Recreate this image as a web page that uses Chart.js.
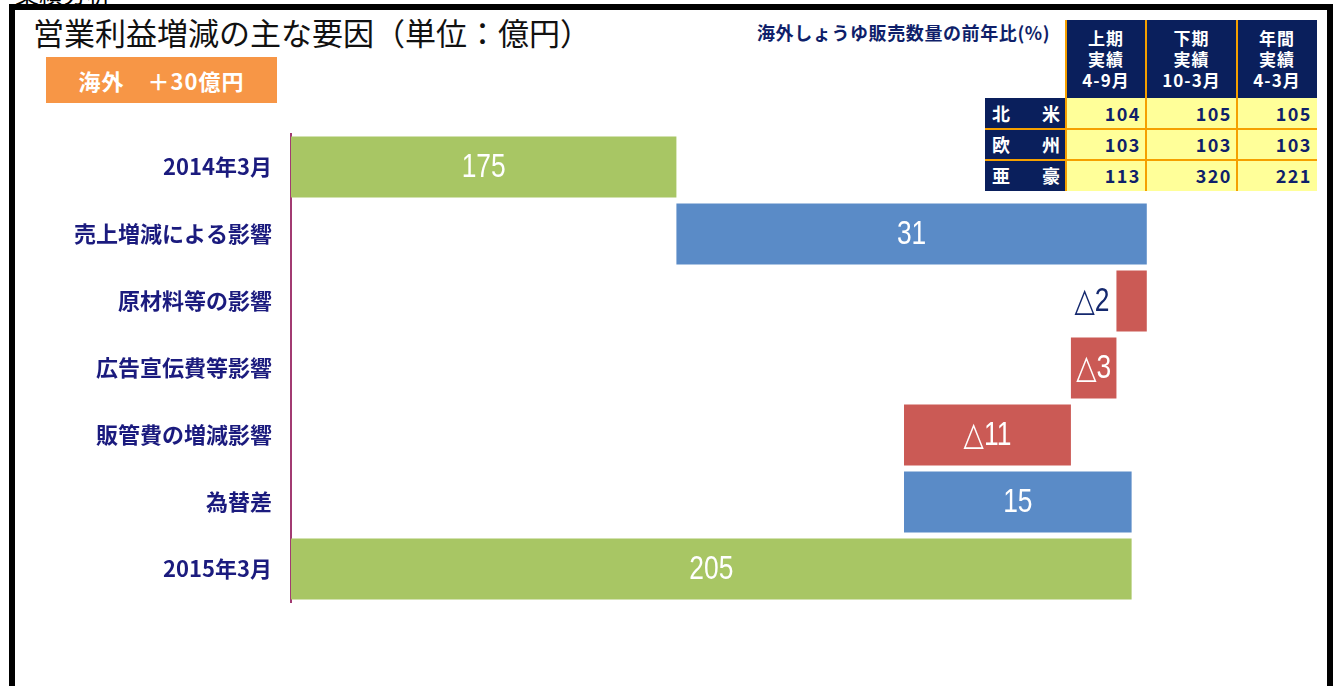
<!DOCTYPE html>
<html>
<head>
<meta charset="utf-8">
<script src="https://cdn.jsdelivr.net/npm/chart.js@4.4.1/dist/chart.umd.min.js"></script>
<style>
  html, body { margin: 0; padding: 0; background: #fff; width: 1343px; height: 686px; overflow: hidden; position: relative; font-family: "Noto Sans CJK JP", sans-serif; }
  #frame { position: absolute; left: 9px; top: 4px; width: 1312px; height: 720px; border: 6px solid #000; box-sizing: content-box; }
  #cut { position: absolute; left: 15px; top: -19px; font-size: 24px; line-height: 24px; color: #000; }
  #title { position: absolute; left: 33px; top: 16px; font-size: 31px; line-height: 31px; color: #111; white-space: nowrap; }
  #badge { position: absolute; left: 46px; top: 57px; width: 231px; height: 46px; background: #F79646; color: #fff; font-weight: bold; font-size: 22px; line-height: 46px; text-align: center; letter-spacing: 1px; }
  #ttitle { position: absolute; left: 757px; top: 20px; font-size: 18px; line-height: 24px; font-weight: bold; color: #0F1F6A; white-space: nowrap; letter-spacing: 0.6px; }
  .cell { position: absolute; box-sizing: border-box; font-weight: bold; }
  .hd { background: #0A1F5C; color: #fff; font-size: 17px; line-height: 21px; text-align: center; padding-top: 7px; letter-spacing: 1px; }
  .rl { background: #0A1F5C; color: #fff; font-size: 18px; line-height: 30px; display: flex; justify-content: space-between; padding: 0 6px 0 7px; }
  .dv { background: #FFFF99; color: #0F1F6A; font-size: 18px; line-height: 31px; text-align: right; padding-right: 5px; letter-spacing: 1.5px; }
  .vl { position: absolute; background: #F5A000; width: 2px; }
  .hl { position: absolute; background: #F5A000; height: 2px; }
  #c { position: absolute; left: 0; top: 0; }
</style>
</head>
<body>
<div id="cut">業績分析</div>
<div id="frame"></div>
<div id="title">営業利益増減の主な要因（単位：億円）</div>
<div id="badge">海外　＋30億円</div>
<div id="ttitle">海外しょうゆ販売数量の前年比(%)</div>
<div id="table"></div>
<canvas id="c" width="1343" height="686"></canvas>
<script>
// ---- chart data ----
const categories = ['2014年3月', '売上増減による影響', '原材料等の影響', '広告宣伝費等影響', '販管費の増減影響', '為替差', '2015年3月'];
const changes = [175, 31, -2, -3, -11, 15, 205];
const isTotal = [true, false, false, false, false, false, true];
const axisMin = 149.6;
const axisMax = 210.1;

// ---- table data ----
const tableHeaders = [['上期', '実績', '4-9月'], ['下期', '実績', '10-3月'], ['年間', '実績', '4-3月']];
const regions = [['北', '米'], ['欧', '州'], ['亜', '豪']];
const northAmerica = [104, 105, 105];
const europe = [103, 103, 103];
const asiaOceania = [113, 320, 221];

// build table (HTML)
(function buildTable() {
  const t = document.getElementById('table');
  const colX = [1066, 1146, 1237];
  const colW = [80, 91, 80];
  const rowY = [98, 129, 160];
  const rowH = 31;
  const rows = [northAmerica, europe, asiaOceania];
  let html = '';
  tableHeaders.forEach((h, i) => {
    html += `<div class="cell hd" style="left:${colX[i]}px;top:20px;width:${colW[i]}px;height:78px">${h.join('<br>')}</div>`;
  });
  regions.forEach((r, j) => {
    html += `<div class="cell rl" style="left:985px;top:${rowY[j]}px;width:81px;height:${rowH}px"><span>${r[0]}</span><span>${r[1]}</span></div>`;
    rows[j].forEach((v, i) => {
      html += `<div class="cell dv" style="left:${colX[i]}px;top:${rowY[j]}px;width:${colW[i]}px;height:${rowH}px">${v}</div>`;
    });
  });
  [1065, 1145, 1236].forEach(x => { html += `<div class="vl" style="left:${x}px;top:20px;height:171px"></div>`; });
  [128, 159].forEach(y => { html += `<div class="hl" style="left:985px;top:${y}px;width:332px"></div>`; });
  t.innerHTML = html;
})();

// build waterfall ranges
const ranges = [];
const colors = [];
const labels = [];
let running = 0;
changes.forEach((v, i) => {
  if (isTotal[i]) {
    ranges.push([axisMin, v]);
    running = v;
    colors.push('#A8C664');
    labels.push(String(v));
  } else {
    ranges.push([running, running + v]);
    running += v;
    colors.push(v >= 0 ? '#5A8BC7' : '#CB5A55');
    labels.push(v >= 0 ? String(v) : '△' + Math.abs(v));
  }
});

const labelFont = '"Liberation Sans", "DejaVu Sans", "Noto Sans CJK JP", sans-serif';
const condense = 0.8;

const barLabels = {
  id: 'barLabels',
  afterDatasetsDraw(chart) {
    const ctx = chart.ctx;
    const meta = chart.getDatasetMeta(0);
    meta.data.forEach((bar, i) => {
      const left = Math.min(bar.x, bar.base);
      const right = Math.max(bar.x, bar.base);
      const w = right - left;
      ctx.save();
      ctx.font = '33px ' + labelFont;
      ctx.textBaseline = 'middle';
      let x;
      if (w < 40) {
        ctx.fillStyle = '#14286E';
        ctx.textAlign = 'right';
        x = left - 7;
      } else {
        ctx.fillStyle = '#ffffff';
        ctx.textAlign = 'center';
        x = (left + right) / 2;
      }
      ctx.translate(x, bar.y + 1);
      ctx.scale(condense, 1);
      ctx.fillText(labels[i], 0, 0);
      ctx.restore();
    });
  }
};

new Chart(document.getElementById('c'), {
  type: 'bar',
  data: {
    labels: categories,
    datasets: [{
      data: ranges,
      backgroundColor: colors,
      borderWidth: 0,
      categoryPercentage: 1,
      barPercentage: 0.91
    }]
  },
  options: {
    indexAxis: 'y',
    responsive: false,
    animation: false,
    devicePixelRatio: 1,
    layout: { padding: { top: 133.5, bottom: 83.5, left: 0, right: 134 } },
    plugins: { legend: { display: false }, tooltip: { enabled: false }, title: { display: false } },
    scales: {
      x: { display: false, min: axisMin, max: axisMax },
      y: {
        grid: { display: false, drawTicks: false },
        border: { display: true, color: '#A23B72', width: 2 },
        ticks: {
          padding: 19,
          color: '#1B1B7E',
          font: { family: '"Noto Sans CJK JP", sans-serif', size: 22, weight: 'bold' }
        },
        afterFit(scale) { scale.width = 291; }
      }
    }
  },
  plugins: [barLabels]
});
</script>
</body>
</html>
